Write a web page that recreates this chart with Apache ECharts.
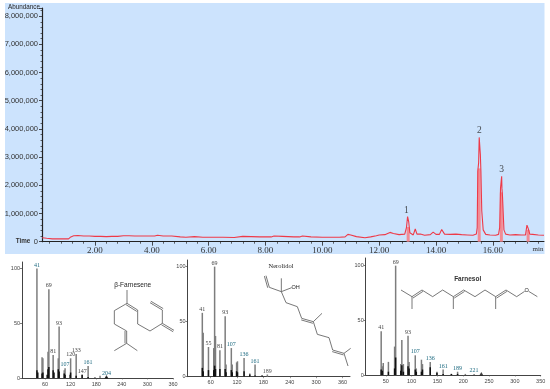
<!DOCTYPE html>
<html><head><meta charset="utf-8">
<style>html,body{margin:0;padding:0;background:#fff}#c{width:550px;height:389px}</style>
<script src="https://cdn.jsdelivr.net/npm/echarts@6/dist/echarts.min.js"></script>
</head><body><div id="c"></div>
<script>
// Total ion chromatogram (time in min, abundance)
const ticTimes = [0.14,0.3,0.5,0.8,1.07,1.15,1.25,1.4,1.6,1.8,2.0,2.2,2.4,2.6,2.8,3.0,3.2,3.4,3.8,4.1,4.2,4.4,4.7,5.0,5.2,5.25,5.5,5.8,6.1,6.5,6.9,7.2,7.5,7.8,8.2,8.3,8.6,9.0,9.2,9.3,9.6,10.0,10.6,10.8,10.9,11.0,11.2,11.5,11.7,11.9,12.0,12.2,12.38,12.5,12.7,12.9,12.96,13.0,13.04,13.08,13.13,13.2,13.27,13.33,13.45,13.6,13.8,13.9,14.0,14.12,14.2,14.3,14.5,14.7,14.9,15.1,15.3,15.42,15.45,15.47,15.5,15.52,15.54,15.56,15.58,15.61,15.66,15.75,15.9,16.1,16.2,16.24,16.27,16.29,16.31,16.32,16.34,16.39,16.45,16.6,16.8,17.0,17.15,17.2,17.24,17.3,17.4,17.6,17.8];
const ticValues = [140000,120000,100000,100000,100000,170000,210000,220000,200000,200000,190000,190000,180000,190000,190000,210000,210000,200000,200000,200000,230000,200000,200000,170000,160000,210000,180000,160000,160000,160000,150000,190000,180000,170000,170000,200000,190000,170000,170000,200000,170000,160000,160000,170000,260000,240000,180000,140000,170000,210000,240000,250000,330000,290000,250000,270000,500000,890000,700000,320000,250000,240000,450000,270000,270000,230000,250000,340000,260000,260000,430000,270000,260000,270000,250000,240000,230000,270000,500000,2500000,2800000,3700000,3700000,3100000,2500000,1100000,420000,260000,240000,230000,260000,500000,1900000,1900000,2320000,1900000,1600000,420000,270000,240000,250000,240000,240000,590000,480000,270000,260000,240000,230000];
const ticShoulders = [[13.02,520000],[15.52,2600000],[16.3,1750000],[17.24,420000]];
const peakMarks = [[12.96,890000,'1'],[15.53,3700000,'2'],[16.31,2320000,'3']];
const ticMajor = [2,4,6,8,10,12,14,16];
const ticMinor = [0.4,0.8,1.2,1.6,2.4,2.8,3.2,3.6,4.4,4.8,5.2,5.6,6.4,6.8,7.2,7.6,8.4,8.8,9.2,9.6,10.4,10.8,11.2,11.6,12.4,12.8,13.2,13.6,14.4,14.8,15.2,15.6,16.4,16.8,17.2,17.6];

// Mass spectra: [m/z, relative abundance]; gray = tall stems, dark = the stems' black bases
const farneseneGray = [[41,100],[53,19],[55,18],[67,24],[69,81],[79,21],[91,18],[93,47],[105,7],[107,9],[120,18],[133,22],[147,3],[161,11],[177,1],[189,2],[204,1]];
const farneseneDark = [[41,7],[43,5],[53,4],[55,5],[65,3],[67,8],[69,10],[79,7],[81,5],[91,8],[93,6],[105,4],[107,3],[119,3],[120,5],[133,2],[147,3],[161,1],[204,1]];
const farneseneLabels = [[41,'41','#1d6a80'],[69,'69','#444'],[79,'81','#444'],[93,'93','#444'],[107,'107','#1d6a80'],[120,'120','#444'],[133,'133','#444'],[147,'147','#444'],[161,'161','#1d6a80'],[204,'204','#1d6a80']];

const nerolidolGray = [[41,58],[43,40],[55,27],[67,26],[69,100],[71,37],[81,24],[93,55],[95,11],[107,26],[109,11],[119,13],[121,14],[136,17],[149,3],[161,11],[177,1],[189,2]];
const nerolidolDark = [[41,8],[43,5],[55,6],[67,6],[69,10],[71,7],[81,7],[93,7],[95,4],[107,6],[109,4],[119,5],[121,4],[136,5],[149,2],[161,1],[177,1]];
const nerolidolLabels = [[41,'41','#444'],[55,'55','#444'],[81,'81','#444'],[69,'69','#444'],[93,'93','#444'],[107,'107','#1d6a80'],[136,'136','#1d6a80'],[161,'161','#1d6a80'],[189,'189','#555']];

const farnesolGray = [[41,40],[43,8],[45,11],[55,12],[67,26],[69,100],[79,10],[81,32],[84,10],[93,36],[95,12],[107,18],[109,6],[119,14],[121,10],[136,12],[149,3],[161,5],[177,1],[189,3],[204,1],[221,1]];
const farnesolDark = [[41,5],[43,4],[55,3],[67,6],[69,16],[79,4],[81,9],[84,3],[93,8],[95,6],[107,5],[109,3],[119,3],[121,5],[136,7],[149,2],[161,1],[177,1],[189,1]];
const farnesolLabels = [[41,'41','#444'],[69,'69','#444'],[93,'93','#444'],[107,'107','#1d6a80'],[136,'136','#1d6a80'],[161,'161','#1d6a80'],[189,'189','#1d6a80'],[221,'221','#1d6a80']];

const spectrumTicks1 = [60,120,180,240,300,360];
const spectrumTicks3 = [50,100,150,200,250,300,350];

// Structure drawings (decoration), as bond lists in a local 1/3-pixel frame
const farneseneBonds = [[381,105,381,145],[381,145,343,167],[343,167,343,207],[343,207,380,228],[380,228,380,265,1],[380,265,343,287],[380,265,412,287],[381,145,413,165,1],[413,165,413,207],[413,207,450,228],[450,228,487,205],[487,205,487,165],[487,165,450,143,1],[487,205,522,226,1]];
const nerolidolBonds = [[258,62,268,97,1],[268,97,304,110],[304,70,304,110],[304,110,335,98],[304,110,318,143],[318,143,352,155],[352,155,365,190],[365,190,400,200,1],[400,200,426,175],[400,200,412,238],[412,238,447,248],[447,248,458,285],[458,285,492,295,1],[492,295,512,280],[492,295,504,333]];
const farnesolBonds = [[123,105,156,125],[156,125,186,105,1],[156,125,156,162],[186,105,218,125],[218,125,248,105],[248,105,280,125],[280,125,311,105,1],[280,125,280,162],[311,105,345,125],[345,125,375,105],[375,105,407,125],[407,125,438,105,1],[407,125,407,162],[438,105,470,125],[470,125,494,109],[506,109,532,125]];

const SANS='"Liberation Sans",Arial,sans-serif', SERIF='"Liberation Serif",serif';

function bondShapes(bonds,x0,y0){
  const out=[];
  bonds.forEach(b=>{
    const seg=(dx,dy)=>out.push({type:'line',silent:true,z:5,
      shape:{x1:x0+(b[0]+dx)/3,y1:y0+(b[1]+dy)/3,x2:x0+(b[2]+dx)/3,y2:y0+(b[3]+dy)/3},
      style:{stroke:'#555',lineWidth:0.8}});
    seg(0,0);
    if(b[4]){const l=Math.hypot(b[2]-b[0],b[3]-b[1]);seg(-(b[3]-b[1])/l*5,(b[2]-b[0])/l*5);}
  });
  return out;
}
function gText(t,x,y,o){return Object.assign({type:'text',silent:true,z:6,x:x,y:y,
  style:Object.assign({text:t,fill:'#222',font:'6.5px '+SANS,textAlign:'center',textVerticalAlign:'middle'},o||{})});}

const grids=[
 {left:42,top:8,width:502,height:233.7},
 {left:22,top:262,width:151,height:116},
 {left:187.5,top:260,width:162.5,height:116.7},
 {left:365.7,top:258,width:175,height:117}
];
const axisLine={lineStyle:{color:'#444',width:1}};
function specX(i,min,max,ticks){return {type:'value',gridIndex:i,min:min,max:max,
  axisLine:Object.assign({onZero:false},axisLine),splitLine:{show:false},
  axisTick:{customValues:ticks,length:1.5,lineStyle:{color:'#555',width:0.6}},
  axisLabel:{customValues:ticks,fontSize:5.5,fontFamily:SANS,color:'#444',margin:3,formatter:v=>String(v)}};}
function specY(i,max){return {type:'value',gridIndex:i,min:0,max:max,
  axisLine:Object.assign({onZero:false},axisLine),splitLine:{show:false},
  axisTick:{customValues:[0,50,100],length:2,inside:false,lineStyle:{color:'#444',width:0.7}},
  axisLabel:{customValues:[0,50,100],fontSize:5.5,fontFamily:SANS,color:'#444',margin:2,formatter:v=>String(v)}};}
function specSeries(i,gray,dark,labels,tri){
  const res=[{type:'bar',xAxisIndex:i,yAxisIndex:i,barWidth:1.5,barGap:'-100%',silent:true,itemStyle:{color:'#7d7d7d'},
    data:gray.map(d=>{
      const it={value:d};
      const l=labels.find(x=>x[0]===d[0]);
      if(l)it.label={show:true,position:'top',distance:0.5,fontSize:6,fontFamily:SERIF,color:l[2],formatter:l[1]};
      return it;})},
   {type:'bar',xAxisIndex:i,yAxisIndex:i,barWidth:1.5,barGap:'-100%',silent:true,itemStyle:{color:'#111'},data:dark}];
  if(tri)res.push({type:'scatter',xAxisIndex:i,yAxisIndex:i,symbol:'triangle',symbolSize:[4,3.5],silent:true,itemStyle:{color:'#111'},data:[[tri,1.2]]});
  return res;
}

const option={
 animation:false,backgroundColor:'#fff',
 grid:grids,
 xAxis:[
  {type:'value',gridIndex:0,min:0.136,max:17.8,axisLine:{onZero:false,lineStyle:{color:'#222',width:1}},splitLine:{show:false},
   axisTick:{customValues:ticMajor,length:4,lineStyle:{color:'#222',width:0.8}},
   axisLabel:{customValues:ticMajor,fontFamily:SERIF,fontSize:9,color:'#333',margin:4,formatter:v=>v.toFixed(2)}},
  specX(1,6,360,spectrumTicks1),
  specX(2,7.3,377,spectrumTicks1),
  specX(3,11,350,spectrumTicks3),
  {type:'value',gridIndex:0,position:'bottom',min:0.136,max:17.8,axisLine:{show:false},splitLine:{show:false},
   axisTick:{customValues:ticMinor,length:2,lineStyle:{color:'#222',width:0.7}},axisLabel:{show:false}}
 ],
 yAxis:[
  {type:'value',gridIndex:0,min:0,max:8290000,interval:1000000,axisLine:{onZero:false,lineStyle:{color:'#222',width:1.2}},splitLine:{show:false},
   axisTick:{length:3,lineStyle:{color:'#222',width:0.8}},
   minorTick:{show:true,splitNumber:5,length:1.5,lineStyle:{color:'#222',width:0.7}},minorSplitLine:{show:false},
   axisLabel:{fontFamily:SANS,fontSize:7.5,color:'#333',margin:4,showMaxLabel:false,formatter:v=>v.toLocaleString('en-US')}},
  specY(1,106),specY(2,106),specY(3,107)
 ],
 series:[
  {type:'bar',xAxisIndex:0,yAxisIndex:0,barWidth:3,silent:true,itemStyle:{color:'#f28b94'},data:ticShoulders},
  {type:'line',xAxisIndex:0,yAxisIndex:0,showSymbol:false,symbol:'none',silent:true,smooth:false,z:3,
   lineStyle:{color:'#ee3a48',width:1.1},data:ticTimes.map((t,i)=>[t,ticValues[i]])},
  {type:'scatter',xAxisIndex:0,yAxisIndex:0,symbolSize:1,silent:true,itemStyle:{color:'transparent'},
   data:peakMarks.map(p=>({value:[p[0],p[1]],label:{show:true,position:'top',distance:1,fontFamily:SERIF,fontSize:9.5,color:'#222',formatter:p[2]}}))},
  ...specSeries(1,farneseneGray,farneseneDark,farneseneLabels,204),
  ...specSeries(2,nerolidolGray,nerolidolDark,nerolidolLabels,null),
  ...specSeries(3,farnesolGray,farnesolDark,farnesolLabels,235)
 ],
 graphic:[
  {type:'rect',silent:true,z:-10,shape:{x:5,y:3,width:539.5,height:251},style:{fill:'#cce3fd'}},
  gText('Abundance',24,7.5,{font:'6.3px '+SANS}),
  gText('Time',23,241.5,{font:'bold 6.3px '+SANS,fill:'#333'}),
  gText('min',538,249.5,{font:'7px '+SERIF,fill:'#333'}),
  gText('β-Farnesene',132.7,285,{font:'6.5px '+SANS}),
  gText('Nerolidol',281,266,{font:'6.5px '+SERIF}),
  gText('OH',295.5,287.5,{font:'5.5px '+SANS}),
  gText('Farnesol',467.7,279,{font:'bold 6.5px '+SANS,fill:'#333'}),
  gText('O',526.7,290,{font:'5.5px '+SANS}),
  ...bondShapes(farneseneBonds,0,255),
  ...bondShapes(nerolidolBonds,180,255),
  ...bondShapes(farnesolBonds,360,255)
 ]
};
echarts.init(document.getElementById('c'),null,{renderer:'canvas'}).setOption(option);
</script></body></html>
